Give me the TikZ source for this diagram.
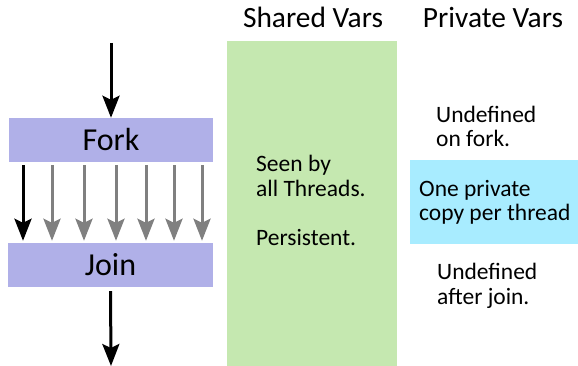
\documentclass[tikz,border=0pt]{standalone}
\usepackage{fontspec}
\setmainfont{Carlito}
\usetikzlibrary{arrows.meta}
\definecolor{lav}{RGB}{176,176,232}
\definecolor{grn}{RGB}{197,232,176}
\definecolor{cyn}{RGB}{168,236,255}
\definecolor{gry}{RGB}{128,128,128}
\tikzset{
  bar/.style={fill=lav,draw=none,minimum width=204pt,minimum height=44pt,inner sep=0pt,font=\fontsize{32}{36}\selectfont},
  blk/.style={line width=3pt,draw=black,-{Stealth[length=22pt,width=17pt,inset=4pt]}},
  thr/.style={line width=3pt,draw=gry,-{Stealth[length=22pt,width=17pt,inset=4pt]}},
  title/.style={font=\fontsize{29.4}{32}\selectfont,anchor=base,inner sep=0pt},
  body/.style={font=\fontsize{23.5}{24.5}\selectfont,align=left,anchor=base west,inner sep=0pt},
}
\begin{document}
\begin{tikzpicture}[x=1pt,y=-1pt]
\useasboundingbox (0,0) rectangle (578,366);
% panels
\fill[grn] (227,41) rectangle (397,366);
\node[fill=cyn,inner sep=0pt,minimum width=168pt,minimum height=84pt] (cy) at (494,202) {};
% bars
\node[bar] (fork) at (111,140) {Fork};
\node[bar,minimum width=205pt] (join) at (110.5,265) {Join};
% arrows
\coordinate (in) at (111,43);
\coordinate (out) at (111,366);
\draw[blk] (in) -- (fork.north);
\draw[blk,shorten <=4pt] (join.south) -- (out);
\foreach \i/\x in {1/23,2/52,3/84,4/116,5/146,6/174,7/202}{
  \coordinate (c\i) at (\x,0);
}
\draw[blk,shorten <=3pt,shorten >=2pt] (fork.south -| c1) -- (join.north -| c1);
\foreach \i in {2,...,7}{
  \draw[thr,shorten <=3pt,shorten >=2pt] (fork.south -| c\i) -- (join.north -| c\i);
}
% titles
\node[title] (st) at (313,28) {Shared Vars};
\node[title] (pt) at (493,28) {Private Vars};
% texts (base anchor = last line)
\node[body] (s1) at (256,245) {Seen by\\all Threads.\\[24.5pt]Persistent.};
\node[body] (p1) at (436,147) {Undefined\\on fork.};
\node[body] (p2) at (419,221) {One private\\copy per thread};
\node[body] (p3) at (437,304) {Undefined\\after join.};
\end{tikzpicture}
\end{document}
